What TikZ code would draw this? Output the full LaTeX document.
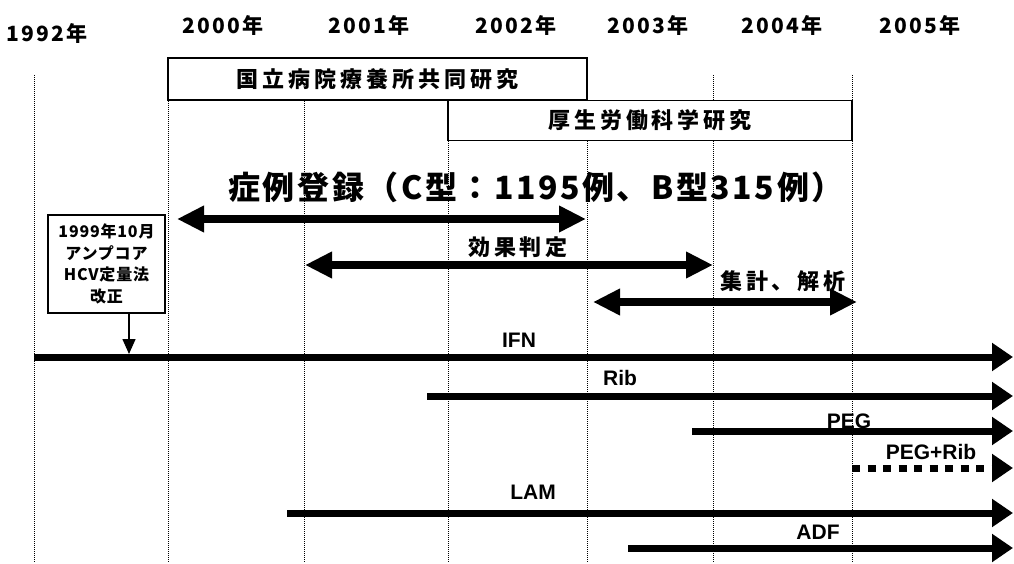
\documentclass[tikz,border=0pt]{standalone}
\usepackage{fontspec}
\setmainfont{Liberation Sans}
\newfontfamily\jp{Noto Sans CJK JP}
\usetikzlibrary{arrows.meta}
\begin{document}
\begin{tikzpicture}[x=1pt,y=-1pt,
  grid/.style={densely dotted, line width=1pt},
  frame/.style={draw, fill=white, line width=1.1pt, inner sep=0pt},
  bar/.style={line width=7pt, -{Triangle[length=21pt,width=27pt]}},
  dashbar/.style={bar, dash pattern=on 8pt off 7.5pt},
  dbl/.style={line width=8pt, {Triangle[length=27pt,width=25pt]}-{Triangle[length=27pt,width=25pt]}},
  pin/.style={line width=1.5pt, -{Triangle[length=15pt,width=13pt]}},
  yr/.style={font=\jp\bfseries\fontsize{21}{24}\selectfont\addfontfeature{LetterSpace=10}},
  jl/.style={font=\jp\bfseries\fontsize{22}{26}\selectfont\addfontfeature{LetterSpace=18}},
  title/.style={font=\jp\bfseries\fontsize{32}{38}\selectfont\addfontfeature{LetterSpace=8}},
  drug/.style={font=\bfseries\fontsize{21}{24}\selectfont},
  notefont/.style={font=\jp\bfseries\fontsize{16}{21.5}\selectfont\addfontfeature{LetterSpace=5}},
]
\useasboundingbox (0,0) rectangle (1014,564);
\fill[white] (0,0) rectangle (1014,564);

% year labels
\node[yr] (y1992) at (47,33) {1992年};
\node[yr] (y2000) at (223,25) {2000年};
\node[yr] (y2001) at (369,25) {2001年};
\node[yr] (y2002) at (516,25) {2002年};
\node[yr] (y2003) at (648,25) {2003年};
\node[yr] (y2004) at (782,25) {2004年};
\node[yr] (y2005) at (920,25) {2005年};

% vertical dotted grid lines
\foreach \n/\x in {a/34,b/168,c/304,d/448,e/587,f/713,g/852}{
  \coordinate (top\n) at (\x,75);
  \coordinate (bot\n) at (\x,562);
  \draw[grid] (top\n) -- (bot\n);
}

% study boxes
\node[frame, minimum width=419pt, minimum height=42pt, jl] (kokuritsu) at (377.5,79) {国立病院療養所共同研究};
\node[frame, minimum width=404pt, minimum height=40pt, jl] (kosei) at (650,120.5) {厚生労働科学研究};

% title
\node[title] (reg) at (536,187) {症例登録（C型：1195例、B型315例）};

% period arrows
\coordinate (regL) at (177,219);
\coordinate (regR) at (586,219);
\draw[dbl] (regL) -- (regR);
\node[jl] (eff) at (518,247) {効果判定};
\coordinate (effL) at (305,265);
\coordinate (effR) at (713,265);
\draw[dbl] (effL) -- (effR);
\node[jl] (ana) at (783,281) {集計、解析};
\coordinate (anaL) at (593,302);
\coordinate (anaR) at (857,302);
\draw[dbl] (anaL) -- (anaR);

% note box
\node[frame, minimum width=117pt, minimum height=98pt, align=center, notefont] (note) at (106.5,264) {1999年10月\\アンプコア\\HCV定量法\\改正};
\coordinate (noteTip) at (129,354);
\draw[pin] (note.south -| noteTip) -- (noteTip);

% drug lines
\coordinate (ifnS) at (34,357);  \coordinate (ifnE) at (1013,357);
\draw[bar] (ifnS) -- (ifnE);
\node[drug] (ifn) at (519,340) {IFN};

\coordinate (ribS) at (427,396);  \coordinate (ribE) at (1013,396);
\draw[bar] (ribS) -- (ribE);
\node[drug] (rib) at (620,378) {Rib};

\coordinate (pegS) at (692,431);  \coordinate (pegE) at (1013,431);
\draw[bar] (pegS) -- (pegE);
\node[drug] (peg) at (849,421) {PEG};

\coordinate (prS) at (852,468);  \coordinate (prE) at (1013,468);
\draw[dashbar] (prS) -- (prE);
\node[drug] (pegrib) at (931,452) {PEG+Rib};

\coordinate (lamS) at (287,513);  \coordinate (lamE) at (1013,513);
\draw[bar] (lamS) -- (lamE);
\node[drug] (lam) at (533,492) {LAM};

\coordinate (adfS) at (628,548);  \coordinate (adfE) at (1013,548);
\draw[bar] (adfS) -- (adfE);
\node[drug] (adf) at (818,532) {ADF};
\end{tikzpicture}
\end{document}
